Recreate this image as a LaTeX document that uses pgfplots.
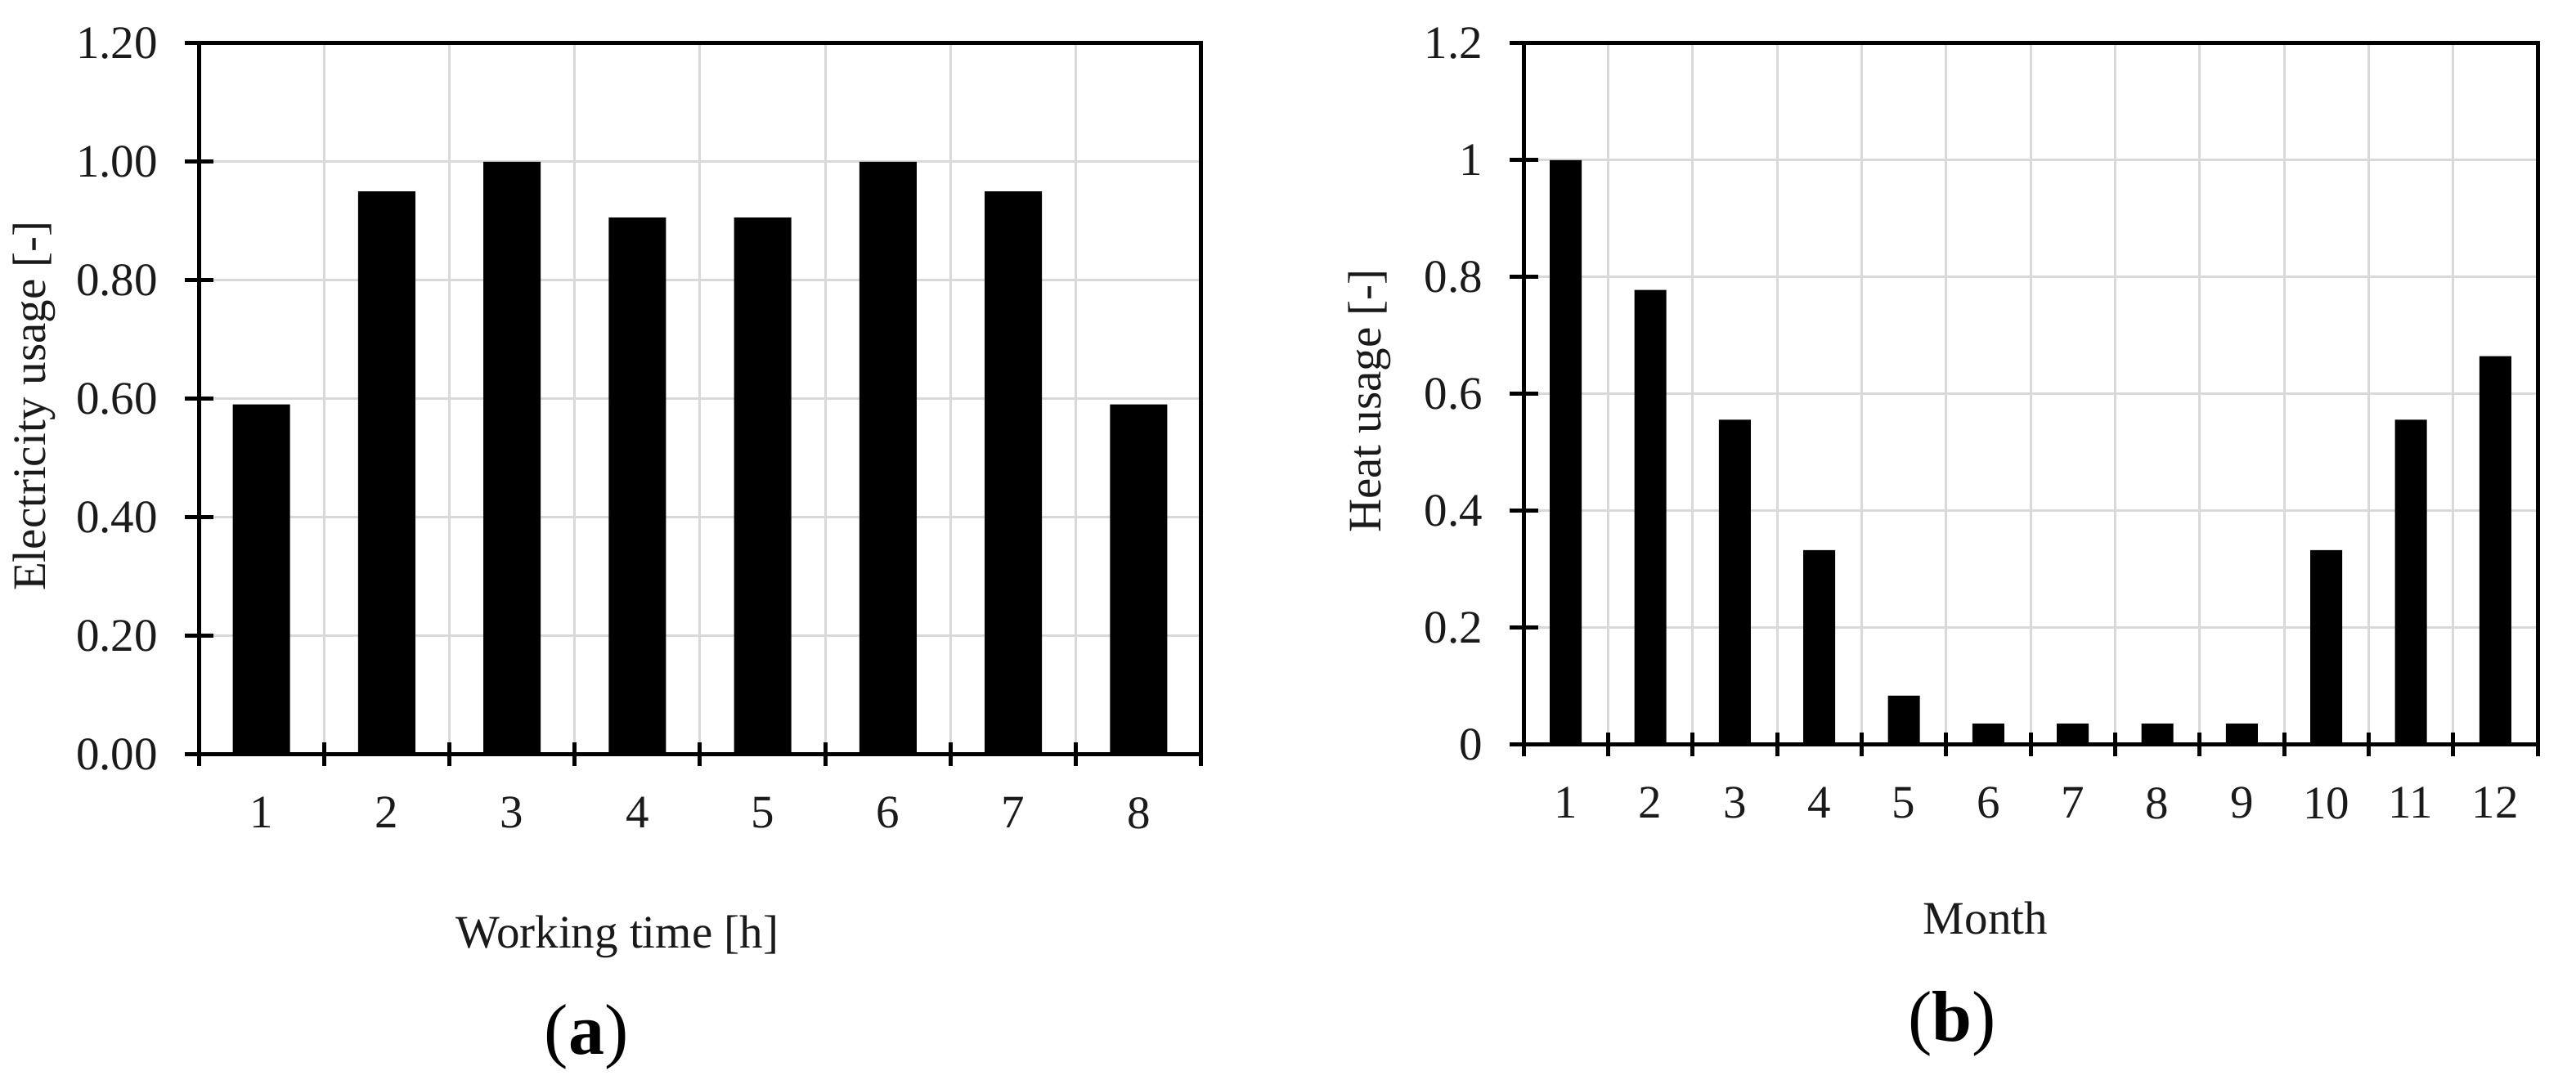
\documentclass[border=0pt]{standalone}
\usepackage{fontspec}
\setmainfont{Liberation Serif}
\usepackage{pgfplots}
\pgfplotsset{compat=1.18}
\definecolor{gridgray}{HTML}{D9D9D9}
\definecolor{txt}{HTML}{1A1A1A}
\pgfplotsset{
  common/.style={
    scale only axis,
    ybar,
    ymin=0, ymax=1.2,
    ytick={0,0.2,0.4,0.6,0.8,1.0,1.2},
    axis line style={line width=1pt, black},
    tick align=center,
    ytick pos=left, xtick pos=bottom,
    major tick length=7pt,
    minor tick length=5.8pt,
    every tick/.style={black, line width=1pt},
    major x tick style={opacity=0},
    xminorgrids, ymajorgrids,
    grid style={gridgray, line width=0.6pt},
    minor grid style={gridgray, line width=0.6pt},
    tick label style={font=\fontsize{11.4}{13}\selectfont, text=txt},
    label style={font=\fontsize{11.4}{13}\selectfont, text=txt},
    /pgf/number format/assume math mode=true,
    yticklabel style={xshift=-3pt},
    xticklabel style={yshift=-3.4pt},
  }
}
\begin{document}
\begin{tikzpicture}
\path[use as bounding box] (0,0) rectangle (630pt,264.2pt);
\begin{axis}[common,
  at={(48.6pt,79.6pt)}, anchor=south west,
  width=245.2pt, height=174pt,
  bar width=14pt,
  xmin=0.5, xmax=8.5,
  xtick={1,2,3,4,5,6,7,8},
  minor xtick={0.5,1.5,2.5,3.5,4.5,5.5,6.5,7.5,8.5},
  yticklabel style={/pgf/number format/.cd, fixed, fixed zerofill, precision=2},
  xlabel={Working time [h]},
  ylabel={Electricity usage [-]},
  xlabel style={at={(axis description cs:0.4176,-0.272)}, anchor=base},
  ylabel style={at={(axis description cs:-0.164,0.49)}, anchor=center},
]
\addplot[fill=black, draw=none] coordinates {
  (1,0.591) (2,0.950) (3,1.000) (4,0.906) (5,0.906) (6,1.000) (7,0.950) (8,0.591)
};
\end{axis}
\begin{axis}[common,
  at={(372.6pt,82pt)}, anchor=south west,
  width=248pt, height=171.6pt,
  bar width=7.8pt,
  xmin=0.5, xmax=12.5,
  xtick={1,2,3,4,5,6,7,8,9,10,11,12},
  minor xtick={0.5,1.5,2.5,3.5,4.5,5.5,6.5,7.5,8.5,9.5,10.5,11.5,12.5},
  yticklabel style={/pgf/number format/.cd, fixed, precision=1},
  xlabel={Month},
  ylabel={Heat usage [-]},
  xlabel style={at={(axis description cs:0.4556,-0.270)}, anchor=base},
  ylabel style={at={(axis description cs:-0.152,0.49)}, anchor=center},
]
\addplot[fill=black, draw=none] coordinates {
  (1,1.000) (2,0.778) (3,0.556) (4,0.333) (5,0.084) (6,0.036)
  (7,0.036) (8,0.036) (9,0.036) (10,0.333) (11,0.556) (12,0.665)
};
\end{axis}
\node[font=\fontsize{17.6}{20}\selectfont, text=black] at (143.4pt,10.6pt) {(\textbf{a})};
\node[font=\fontsize{17.6}{20}\selectfont, text=black] at (477.4pt,13.8pt) {(\textbf{b})};
\end{tikzpicture}
\end{document}
